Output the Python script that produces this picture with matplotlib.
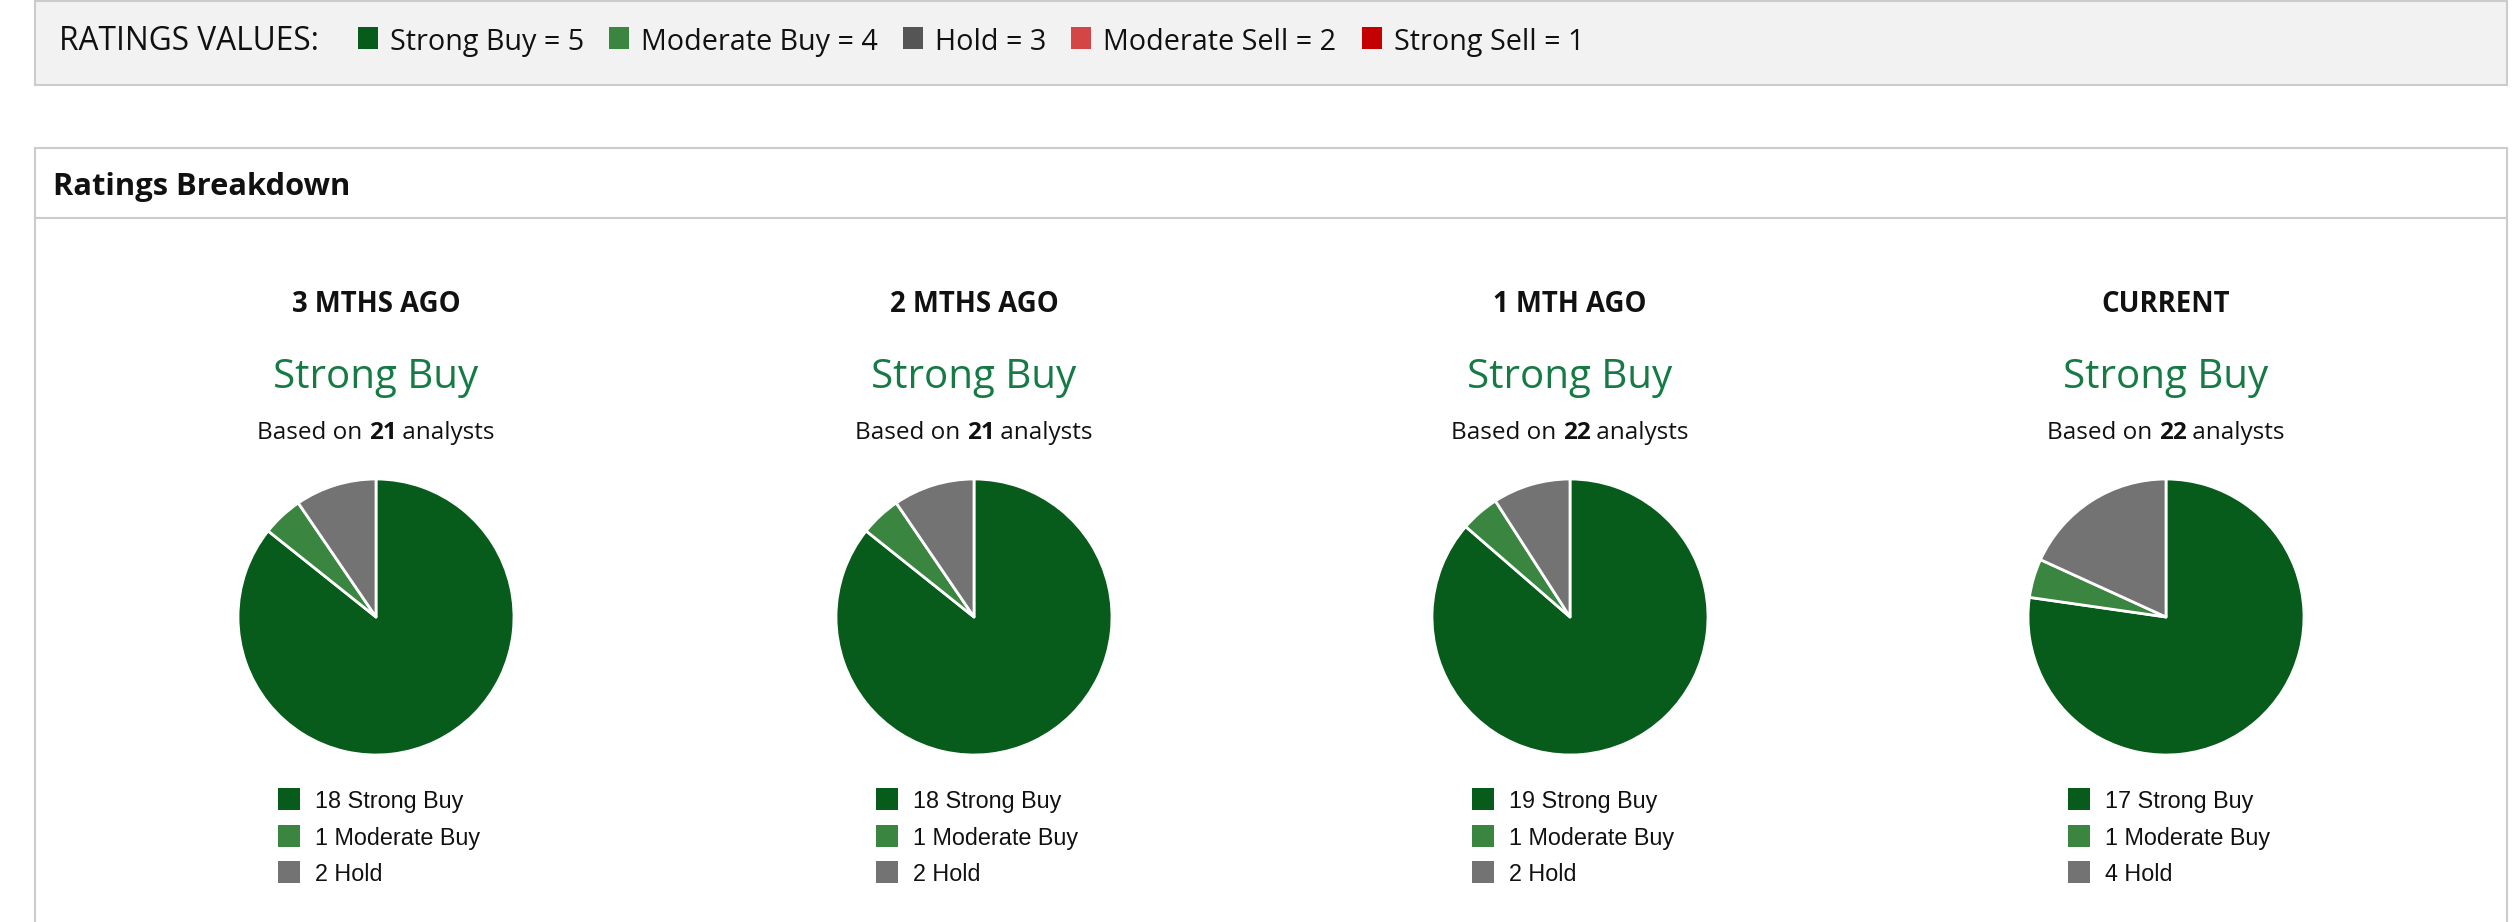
import matplotlib
matplotlib.use("Agg")
import matplotlib.pyplot as plt
from matplotlib.patches import Rectangle

# --- data ---
rating_names = ["Strong Buy", "Moderate Buy", "Hold", "Moderate Sell", "Strong Sell"]
rating_values = [5, 4, 3, 2, 1]
rating_colors = ["#075b1b", "#3a8540", "#555555", "#d44545", "#c40000"]

periods = ["3 MTHS AGO", "2 MTHS AGO", "1 MTH AGO", "CURRENT"]
consensus = ["Strong Buy", "Strong Buy", "Strong Buy", "Strong Buy"]
analysts = [21, 21, 22, 22]
strong_buy = [18, 18, 19, 17]
moderate_buy = [1, 1, 1, 1]
hold = [2, 2, 2, 4]

pie_labels = ["Strong Buy", "Moderate Buy", "Hold"]
pie_colors = ["#075b1b", "#3a8540", "#737373"]

W, H = 2520, 922
fig = plt.figure(figsize=(W / 100, H / 100), dpi=100)
bg = fig.add_axes([0, 0, 1, 1])
bg.set_xlim(0, W)
bg.set_ylim(H, 0)
bg.axis("off")
renderer = fig.canvas.get_renderer()

html_font = "Open Sans"

# top "ratings values" bar
bg.add_patch(Rectangle((35, 1), 2472, 84, facecolor="#f2f2f2", edgecolor="#cccccc", lw=1.5))
t = bg.text(59, 50, "RATINGS VALUES:", fontsize=22.8, family=html_font, color="#111111", va="baseline")
x = t.get_window_extent(renderer).x1 + 39
for name, val, col in zip(rating_names, rating_values, rating_colors):
    bg.add_patch(Rectangle((x, 27), 20, 22, facecolor=col, edgecolor="none"))
    t = bg.text(x + 32, 50, f"{name} = {val}", fontsize=20.7, family=html_font,
                color="#111111", va="baseline")
    x = t.get_window_extent(renderer).x1 + 25

# breakdown panel
bg.add_patch(Rectangle((35, 148), 2472, 800, facecolor="white", edgecolor="#cccccc", lw=1.5,
                       clip_on=False))
bg.plot([35, 2507], [218.5, 218.5], color="#cccccc", lw=1.5)
bg.text(53, 195, "Ratings Breakdown", fontsize=22.2, family=html_font, weight="bold",
        color="#111111", va="baseline")

col_x = [376, 974, 1570, 2166]
pie_y = 617
R = 138
pad = 1.03

for i, cx in enumerate(col_x):
    bg.text(cx, 312, periods[i], fontsize=19.8, family=html_font, weight="bold",
            ha="center", va="baseline", color="#111111")
    bg.text(cx, 388, consensus[i], fontsize=29, family=html_font,
            ha="center", va="baseline", color="#167a45")

    # "Based on **N** analysts" with bold number
    parts = [("Based on ", "normal"), (str(analysts[i]), "bold"), (" analysts", "normal")]
    widths = []
    for s, w in parts:
        tt = bg.text(0, 0, s, fontsize=17.5, family=html_font, weight=w)
        widths.append(tt.get_window_extent(renderer).width)
        tt.remove()
    xs = cx - sum(widths) / 2
    for (s, w), wd in zip(parts, widths):
        bg.text(xs, 439, s, fontsize=17.5, family=html_font, weight=w,
                va="baseline", ha="left", color="#111111")
        xs += wd

    vals = [strong_buy[i], moderate_buy[i], hold[i]]
    ax = fig.add_axes([(cx - R * pad) / W, (H - pie_y - R * pad) / H,
                       2 * R * pad / W, 2 * R * pad / H])
    ax.pie(vals, colors=pie_colors, startangle=90, counterclock=False,
           wedgeprops=dict(edgecolor="white", linewidth=2, joinstyle="round"))
    ax.set_xlim(-pad, pad)
    ax.set_ylim(-pad, pad)
    ax.set_aspect("equal")
    ax.axis("off")

    # legend below pie
    for j, (lab, v, c) in enumerate(zip(pie_labels, vals, pie_colors)):
        base = 808 + j * 36.5
        bg.add_patch(Rectangle((cx - 98, base - 20), 22, 22, facecolor=c, edgecolor="none"))
        bg.text(cx - 61, base, f"{v} {lab}", fontsize=16.8, family="Liberation Sans",
                va="baseline", ha="left", color="#111111")

fig.savefig("out.png", dpi=100, facecolor="white")
